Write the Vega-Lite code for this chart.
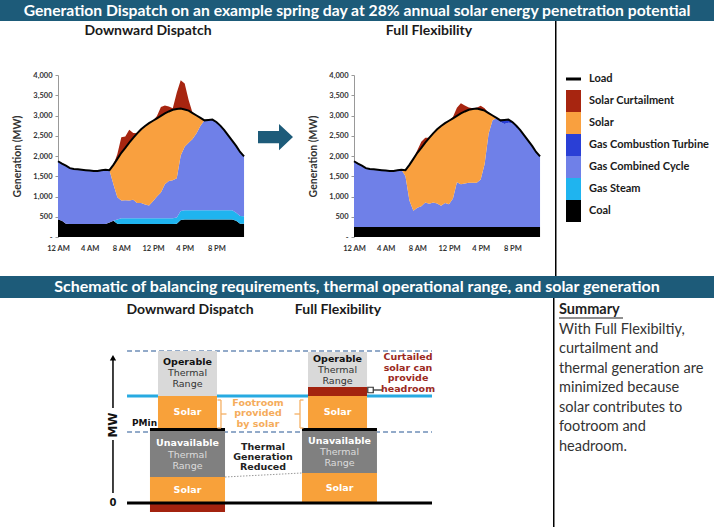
{
  "$schema": "https://vega.github.io/schema/vega-lite/v6.json",
  "padding": 0,
  "background": "white",
  "spacing": 0,
  "config": {"view": {"stroke": null}, "concat": {"spacing": 0}, "font": "Lato"},
  "datasets": {
    "dispatch": [
      {"panel":"Downward Dispatch","hour":0,"Coal":430,"Gas Steam":0,"Gas Combined Cycle":1440,"Gas Combustion Turbine":0,"Solar":0,"Solar Curtailment":0,"Load":1870},
      {"panel":"Downward Dispatch","hour":0.5,"Coal":400,"Gas Steam":0,"Gas Combined Cycle":1410,"Gas Combustion Turbine":0,"Solar":0,"Solar Curtailment":0,"Load":1810},
      {"panel":"Downward Dispatch","hour":1,"Coal":330,"Gas Steam":0,"Gas Combined Cycle":1430,"Gas Combustion Turbine":0,"Solar":0,"Solar Curtailment":0,"Load":1760},
      {"panel":"Downward Dispatch","hour":1.5,"Coal":320,"Gas Steam":0,"Gas Combined Cycle":1380,"Gas Combustion Turbine":0,"Solar":0,"Solar Curtailment":0,"Load":1700},
      {"panel":"Downward Dispatch","hour":2,"Coal":320,"Gas Steam":0,"Gas Combined Cycle":1360,"Gas Combustion Turbine":0,"Solar":0,"Solar Curtailment":0,"Load":1680},
      {"panel":"Downward Dispatch","hour":2.5,"Coal":320,"Gas Steam":0,"Gas Combined Cycle":1350,"Gas Combustion Turbine":0,"Solar":0,"Solar Curtailment":0,"Load":1670},
      {"panel":"Downward Dispatch","hour":3,"Coal":320,"Gas Steam":0,"Gas Combined Cycle":1340,"Gas Combustion Turbine":0,"Solar":0,"Solar Curtailment":0,"Load":1660},
      {"panel":"Downward Dispatch","hour":3.5,"Coal":320,"Gas Steam":0,"Gas Combined Cycle":1330,"Gas Combustion Turbine":0,"Solar":0,"Solar Curtailment":0,"Load":1650},
      {"panel":"Downward Dispatch","hour":4,"Coal":320,"Gas Steam":0,"Gas Combined Cycle":1320,"Gas Combustion Turbine":0,"Solar":0,"Solar Curtailment":0,"Load":1640},
      {"panel":"Downward Dispatch","hour":4.5,"Coal":320,"Gas Steam":0,"Gas Combined Cycle":1310,"Gas Combustion Turbine":0,"Solar":0,"Solar Curtailment":0,"Load":1630},
      {"panel":"Downward Dispatch","hour":5,"Coal":320,"Gas Steam":0,"Gas Combined Cycle":1310,"Gas Combustion Turbine":0,"Solar":0,"Solar Curtailment":0,"Load":1630},
      {"panel":"Downward Dispatch","hour":5.5,"Coal":320,"Gas Steam":0,"Gas Combined Cycle":1330,"Gas Combustion Turbine":0,"Solar":0,"Solar Curtailment":0,"Load":1650},
      {"panel":"Downward Dispatch","hour":6,"Coal":320,"Gas Steam":0,"Gas Combined Cycle":1340,"Gas Combustion Turbine":0,"Solar":0,"Solar Curtailment":0,"Load":1660},
      {"panel":"Downward Dispatch","hour":6.5,"Coal":360,"Gas Steam":0,"Gas Combined Cycle":1290,"Gas Combustion Turbine":0,"Solar":0,"Solar Curtailment":0,"Load":1650},
      {"panel":"Downward Dispatch","hour":7,"Coal":400,"Gas Steam":0,"Gas Combined Cycle":900,"Gas Combustion Turbine":0,"Solar":480,"Solar Curtailment":0,"Load":1780},
      {"panel":"Downward Dispatch","hour":7.5,"Coal":330,"Gas Steam":100,"Gas Combined Cycle":550,"Gas Combustion Turbine":0,"Solar":950,"Solar Curtailment":120,"Load":1930},
      {"panel":"Downward Dispatch","hour":8,"Coal":320,"Gas Steam":140,"Gas Combined Cycle":440,"Gas Combustion Turbine":0,"Solar":1180,"Solar Curtailment":380,"Load":2080},
      {"panel":"Downward Dispatch","hour":8.5,"Coal":320,"Gas Steam":140,"Gas Combined Cycle":445,"Gas Combustion Turbine":0,"Solar":1295,"Solar Curtailment":280,"Load":2200},
      {"panel":"Downward Dispatch","hour":9,"Coal":320,"Gas Steam":140,"Gas Combined Cycle":440,"Gas Combustion Turbine":0,"Solar":1430,"Solar Curtailment":320,"Load":2330},
      {"panel":"Downward Dispatch","hour":9.5,"Coal":320,"Gas Steam":140,"Gas Combined Cycle":460,"Gas Combustion Turbine":0,"Solar":1530,"Solar Curtailment":120,"Load":2450},
      {"panel":"Downward Dispatch","hour":10,"Coal":320,"Gas Steam":140,"Gas Combined Cycle":380,"Gas Combustion Turbine":0,"Solar":1720,"Solar Curtailment":0,"Load":2560},
      {"panel":"Downward Dispatch","hour":10.5,"Coal":320,"Gas Steam":140,"Gas Combined Cycle":380,"Gas Combustion Turbine":0,"Solar":1820,"Solar Curtailment":0,"Load":2660},
      {"panel":"Downward Dispatch","hour":11,"Coal":320,"Gas Steam":140,"Gas Combined Cycle":340,"Gas Combustion Turbine":0,"Solar":1940,"Solar Curtailment":0,"Load":2740},
      {"panel":"Downward Dispatch","hour":11.5,"Coal":320,"Gas Steam":140,"Gas Combined Cycle":320,"Gas Combustion Turbine":0,"Solar":2030,"Solar Curtailment":0,"Load":2810},
      {"panel":"Downward Dispatch","hour":12,"Coal":320,"Gas Steam":140,"Gas Combined Cycle":420,"Gas Combustion Turbine":0,"Solar":1990,"Solar Curtailment":0,"Load":2870},
      {"panel":"Downward Dispatch","hour":12.5,"Coal":320,"Gas Steam":140,"Gas Combined Cycle":540,"Gas Combustion Turbine":0,"Solar":1930,"Solar Curtailment":60,"Load":2930},
      {"panel":"Downward Dispatch","hour":13,"Coal":320,"Gas Steam":140,"Gas Combined Cycle":640,"Gas Combustion Turbine":0,"Solar":1890,"Solar Curtailment":220,"Load":2990},
      {"panel":"Downward Dispatch","hour":13.5,"Coal":320,"Gas Steam":140,"Gas Combined Cycle":840,"Gas Combustion Turbine":0,"Solar":1750,"Solar Curtailment":200,"Load":3050},
      {"panel":"Downward Dispatch","hour":14,"Coal":320,"Gas Steam":140,"Gas Combined Cycle":920,"Gas Combustion Turbine":0,"Solar":1720,"Solar Curtailment":120,"Load":3100},
      {"panel":"Downward Dispatch","hour":14.5,"Coal":320,"Gas Steam":140,"Gas Combined Cycle":940,"Gas Combustion Turbine":0,"Solar":1740,"Solar Curtailment":40,"Load":3140},
      {"panel":"Downward Dispatch","hour":15,"Coal":330,"Gas Steam":150,"Gas Combined Cycle":970,"Gas Combustion Turbine":0,"Solar":1710,"Solar Curtailment":400,"Load":3160},
      {"panel":"Downward Dispatch","hour":15.5,"Coal":420,"Gas Steam":220,"Gas Combined Cycle":1370,"Gas Combustion Turbine":0,"Solar":1160,"Solar Curtailment":700,"Load":3170},
      {"panel":"Downward Dispatch","hour":16,"Coal":430,"Gas Steam":230,"Gas Combined Cycle":1570,"Gas Combustion Turbine":0,"Solar":920,"Solar Curtailment":640,"Load":3150},
      {"panel":"Downward Dispatch","hour":16.5,"Coal":430,"Gas Steam":230,"Gas Combined Cycle":1670,"Gas Combustion Turbine":0,"Solar":790,"Solar Curtailment":260,"Load":3120},
      {"panel":"Downward Dispatch","hour":17,"Coal":430,"Gas Steam":230,"Gas Combined Cycle":1760,"Gas Combustion Turbine":0,"Solar":640,"Solar Curtailment":0,"Load":3060},
      {"panel":"Downward Dispatch","hour":17.5,"Coal":430,"Gas Steam":230,"Gas Combined Cycle":1900,"Gas Combustion Turbine":0,"Solar":440,"Solar Curtailment":0,"Load":3000},
      {"panel":"Downward Dispatch","hour":18,"Coal":430,"Gas Steam":230,"Gas Combined Cycle":2090,"Gas Combustion Turbine":0,"Solar":190,"Solar Curtailment":0,"Load":2940},
      {"panel":"Downward Dispatch","hour":18.5,"Coal":430,"Gas Steam":230,"Gas Combined Cycle":2220,"Gas Combustion Turbine":0,"Solar":0,"Solar Curtailment":0,"Load":2880},
      {"panel":"Downward Dispatch","hour":19,"Coal":430,"Gas Steam":230,"Gas Combined Cycle":2230,"Gas Combustion Turbine":0,"Solar":0,"Solar Curtailment":0,"Load":2890},
      {"panel":"Downward Dispatch","hour":19.5,"Coal":430,"Gas Steam":230,"Gas Combined Cycle":2240,"Gas Combustion Turbine":0,"Solar":0,"Solar Curtailment":0,"Load":2900},
      {"panel":"Downward Dispatch","hour":20,"Coal":430,"Gas Steam":230,"Gas Combined Cycle":2180,"Gas Combustion Turbine":0,"Solar":0,"Solar Curtailment":0,"Load":2840},
      {"panel":"Downward Dispatch","hour":20.5,"Coal":430,"Gas Steam":230,"Gas Combined Cycle":2090,"Gas Combustion Turbine":0,"Solar":0,"Solar Curtailment":0,"Load":2750},
      {"panel":"Downward Dispatch","hour":21,"Coal":430,"Gas Steam":230,"Gas Combined Cycle":1980,"Gas Combustion Turbine":0,"Solar":0,"Solar Curtailment":0,"Load":2640},
      {"panel":"Downward Dispatch","hour":21.5,"Coal":430,"Gas Steam":230,"Gas Combined Cycle":1850,"Gas Combustion Turbine":0,"Solar":0,"Solar Curtailment":0,"Load":2510},
      {"panel":"Downward Dispatch","hour":22,"Coal":430,"Gas Steam":230,"Gas Combined Cycle":1720,"Gas Combustion Turbine":0,"Solar":0,"Solar Curtailment":0,"Load":2380},
      {"panel":"Downward Dispatch","hour":22.5,"Coal":400,"Gas Steam":200,"Gas Combined Cycle":1650,"Gas Combustion Turbine":0,"Solar":0,"Solar Curtailment":0,"Load":2250},
      {"panel":"Downward Dispatch","hour":23,"Coal":330,"Gas Steam":190,"Gas Combined Cycle":1580,"Gas Combustion Turbine":0,"Solar":0,"Solar Curtailment":0,"Load":2100},
      {"panel":"Downward Dispatch","hour":23.5,"Coal":330,"Gas Steam":180,"Gas Combined Cycle":1480,"Gas Combustion Turbine":0,"Solar":0,"Solar Curtailment":0,"Load":1990},
      {"panel":"Full Flexibility","hour":0,"Coal":250,"Gas Steam":0,"Gas Combined Cycle":1620,"Gas Combustion Turbine":0,"Solar":0,"Solar Curtailment":0,"Load":1870},
      {"panel":"Full Flexibility","hour":0.5,"Coal":250,"Gas Steam":0,"Gas Combined Cycle":1560,"Gas Combustion Turbine":0,"Solar":0,"Solar Curtailment":0,"Load":1810},
      {"panel":"Full Flexibility","hour":1,"Coal":250,"Gas Steam":0,"Gas Combined Cycle":1510,"Gas Combustion Turbine":0,"Solar":0,"Solar Curtailment":0,"Load":1760},
      {"panel":"Full Flexibility","hour":1.5,"Coal":250,"Gas Steam":0,"Gas Combined Cycle":1450,"Gas Combustion Turbine":0,"Solar":0,"Solar Curtailment":0,"Load":1700},
      {"panel":"Full Flexibility","hour":2,"Coal":250,"Gas Steam":0,"Gas Combined Cycle":1430,"Gas Combustion Turbine":0,"Solar":0,"Solar Curtailment":0,"Load":1680},
      {"panel":"Full Flexibility","hour":2.5,"Coal":250,"Gas Steam":0,"Gas Combined Cycle":1420,"Gas Combustion Turbine":0,"Solar":0,"Solar Curtailment":0,"Load":1670},
      {"panel":"Full Flexibility","hour":3,"Coal":250,"Gas Steam":0,"Gas Combined Cycle":1410,"Gas Combustion Turbine":0,"Solar":0,"Solar Curtailment":0,"Load":1660},
      {"panel":"Full Flexibility","hour":3.5,"Coal":250,"Gas Steam":0,"Gas Combined Cycle":1400,"Gas Combustion Turbine":0,"Solar":0,"Solar Curtailment":0,"Load":1650},
      {"panel":"Full Flexibility","hour":4,"Coal":250,"Gas Steam":0,"Gas Combined Cycle":1390,"Gas Combustion Turbine":0,"Solar":0,"Solar Curtailment":0,"Load":1640},
      {"panel":"Full Flexibility","hour":4.5,"Coal":250,"Gas Steam":0,"Gas Combined Cycle":1380,"Gas Combustion Turbine":0,"Solar":0,"Solar Curtailment":0,"Load":1630},
      {"panel":"Full Flexibility","hour":5,"Coal":250,"Gas Steam":0,"Gas Combined Cycle":1380,"Gas Combustion Turbine":0,"Solar":0,"Solar Curtailment":0,"Load":1630},
      {"panel":"Full Flexibility","hour":5.5,"Coal":250,"Gas Steam":0,"Gas Combined Cycle":1400,"Gas Combustion Turbine":0,"Solar":0,"Solar Curtailment":0,"Load":1650},
      {"panel":"Full Flexibility","hour":6,"Coal":250,"Gas Steam":0,"Gas Combined Cycle":1410,"Gas Combustion Turbine":0,"Solar":0,"Solar Curtailment":0,"Load":1660},
      {"panel":"Full Flexibility","hour":6.5,"Coal":250,"Gas Steam":0,"Gas Combined Cycle":1250,"Gas Combustion Turbine":0,"Solar":150,"Solar Curtailment":0,"Load":1650},
      {"panel":"Full Flexibility","hour":7,"Coal":250,"Gas Steam":0,"Gas Combined Cycle":650,"Gas Combustion Turbine":0,"Solar":880,"Solar Curtailment":0,"Load":1780},
      {"panel":"Full Flexibility","hour":7.5,"Coal":250,"Gas Steam":0,"Gas Combined Cycle":400,"Gas Combustion Turbine":0,"Solar":1280,"Solar Curtailment":0,"Load":1930},
      {"panel":"Full Flexibility","hour":8,"Coal":250,"Gas Steam":0,"Gas Combined Cycle":470,"Gas Combustion Turbine":0,"Solar":1360,"Solar Curtailment":60,"Load":2080},
      {"panel":"Full Flexibility","hour":8.5,"Coal":250,"Gas Steam":0,"Gas Combined Cycle":510,"Gas Combustion Turbine":0,"Solar":1440,"Solar Curtailment":150,"Load":2200},
      {"panel":"Full Flexibility","hour":9,"Coal":250,"Gas Steam":0,"Gas Combined Cycle":600,"Gas Combustion Turbine":0,"Solar":1480,"Solar Curtailment":120,"Load":2330},
      {"panel":"Full Flexibility","hour":9.5,"Coal":250,"Gas Steam":0,"Gas Combined Cycle":570,"Gas Combustion Turbine":0,"Solar":1630,"Solar Curtailment":0,"Load":2450},
      {"panel":"Full Flexibility","hour":10,"Coal":250,"Gas Steam":0,"Gas Combined Cycle":600,"Gas Combustion Turbine":0,"Solar":1710,"Solar Curtailment":0,"Load":2560},
      {"panel":"Full Flexibility","hour":10.5,"Coal":250,"Gas Steam":0,"Gas Combined Cycle":580,"Gas Combustion Turbine":0,"Solar":1830,"Solar Curtailment":0,"Load":2660},
      {"panel":"Full Flexibility","hour":11,"Coal":250,"Gas Steam":0,"Gas Combined Cycle":520,"Gas Combustion Turbine":0,"Solar":1970,"Solar Curtailment":0,"Load":2740},
      {"panel":"Full Flexibility","hour":11.5,"Coal":250,"Gas Steam":0,"Gas Combined Cycle":590,"Gas Combustion Turbine":0,"Solar":1970,"Solar Curtailment":0,"Load":2810},
      {"panel":"Full Flexibility","hour":12,"Coal":250,"Gas Steam":0,"Gas Combined Cycle":560,"Gas Combustion Turbine":0,"Solar":2060,"Solar Curtailment":0,"Load":2870},
      {"panel":"Full Flexibility","hour":12.5,"Coal":250,"Gas Steam":0,"Gas Combined Cycle":700,"Gas Combustion Turbine":0,"Solar":1980,"Solar Curtailment":30,"Load":2930},
      {"panel":"Full Flexibility","hour":13,"Coal":250,"Gas Steam":0,"Gas Combined Cycle":1100,"Gas Combustion Turbine":0,"Solar":1640,"Solar Curtailment":200,"Load":2990},
      {"panel":"Full Flexibility","hour":13.5,"Coal":250,"Gas Steam":0,"Gas Combined Cycle":1050,"Gas Combustion Turbine":0,"Solar":1750,"Solar Curtailment":250,"Load":3050},
      {"panel":"Full Flexibility","hour":14,"Coal":250,"Gas Steam":0,"Gas Combined Cycle":1070,"Gas Combustion Turbine":0,"Solar":1780,"Solar Curtailment":150,"Load":3100},
      {"panel":"Full Flexibility","hour":14.5,"Coal":250,"Gas Steam":0,"Gas Combined Cycle":1090,"Gas Combustion Turbine":0,"Solar":1800,"Solar Curtailment":60,"Load":3140},
      {"panel":"Full Flexibility","hour":15,"Coal":250,"Gas Steam":0,"Gas Combined Cycle":1090,"Gas Combustion Turbine":0,"Solar":1820,"Solar Curtailment":20,"Load":3160},
      {"panel":"Full Flexibility","hour":15.5,"Coal":250,"Gas Steam":0,"Gas Combined Cycle":1090,"Gas Combustion Turbine":0,"Solar":1830,"Solar Curtailment":20,"Load":3170},
      {"panel":"Full Flexibility","hour":16,"Coal":250,"Gas Steam":0,"Gas Combined Cycle":1170,"Gas Combustion Turbine":0,"Solar":1730,"Solar Curtailment":90,"Load":3150},
      {"panel":"Full Flexibility","hour":16.5,"Coal":250,"Gas Steam":0,"Gas Combined Cycle":1550,"Gas Combustion Turbine":0,"Solar":1320,"Solar Curtailment":60,"Load":3120},
      {"panel":"Full Flexibility","hour":17,"Coal":250,"Gas Steam":0,"Gas Combined Cycle":2300,"Gas Combustion Turbine":0,"Solar":510,"Solar Curtailment":0,"Load":3060},
      {"panel":"Full Flexibility","hour":17.5,"Coal":250,"Gas Steam":0,"Gas Combined Cycle":2630,"Gas Combustion Turbine":0,"Solar":120,"Solar Curtailment":0,"Load":3000},
      {"panel":"Full Flexibility","hour":18,"Coal":250,"Gas Steam":0,"Gas Combined Cycle":2690,"Gas Combustion Turbine":0,"Solar":0,"Solar Curtailment":0,"Load":2940},
      {"panel":"Full Flexibility","hour":18.5,"Coal":250,"Gas Steam":0,"Gas Combined Cycle":2590,"Gas Combustion Turbine":40,"Solar":0,"Solar Curtailment":0,"Load":2880},
      {"panel":"Full Flexibility","hour":19,"Coal":250,"Gas Steam":0,"Gas Combined Cycle":2540,"Gas Combustion Turbine":100,"Solar":0,"Solar Curtailment":0,"Load":2890},
      {"panel":"Full Flexibility","hour":19.5,"Coal":250,"Gas Steam":0,"Gas Combined Cycle":2570,"Gas Combustion Turbine":80,"Solar":0,"Solar Curtailment":0,"Load":2900},
      {"panel":"Full Flexibility","hour":20,"Coal":250,"Gas Steam":0,"Gas Combined Cycle":2560,"Gas Combustion Turbine":30,"Solar":0,"Solar Curtailment":0,"Load":2840},
      {"panel":"Full Flexibility","hour":20.5,"Coal":250,"Gas Steam":0,"Gas Combined Cycle":2440,"Gas Combustion Turbine":60,"Solar":0,"Solar Curtailment":0,"Load":2750},
      {"panel":"Full Flexibility","hour":21,"Coal":250,"Gas Steam":0,"Gas Combined Cycle":2390,"Gas Combustion Turbine":0,"Solar":0,"Solar Curtailment":0,"Load":2640},
      {"panel":"Full Flexibility","hour":21.5,"Coal":250,"Gas Steam":0,"Gas Combined Cycle":2260,"Gas Combustion Turbine":0,"Solar":0,"Solar Curtailment":0,"Load":2510},
      {"panel":"Full Flexibility","hour":22,"Coal":250,"Gas Steam":0,"Gas Combined Cycle":2130,"Gas Combustion Turbine":0,"Solar":0,"Solar Curtailment":0,"Load":2380},
      {"panel":"Full Flexibility","hour":22.5,"Coal":250,"Gas Steam":0,"Gas Combined Cycle":2000,"Gas Combustion Turbine":0,"Solar":0,"Solar Curtailment":0,"Load":2250},
      {"panel":"Full Flexibility","hour":23,"Coal":250,"Gas Steam":0,"Gas Combined Cycle":1850,"Gas Combustion Turbine":0,"Solar":0,"Solar Curtailment":0,"Load":2100},
      {"panel":"Full Flexibility","hour":23.5,"Coal":250,"Gas Steam":0,"Gas Combined Cycle":1740,"Gas Combustion Turbine":0,"Solar":0,"Solar Curtailment":0,"Load":1990}
    ],
    "sources": [
      {"source":"Coal","rank":1},
      {"source":"Gas Steam","rank":2},
      {"source":"Gas Combined Cycle","rank":3},
      {"source":"Gas Combustion Turbine","rank":4},
      {"source":"Solar","rank":5},
      {"source":"Solar Curtailment","rank":6}
    ],
    "legend": [
      {"item":"Load"},{"item":"Solar Curtailment"},{"item":"Solar"},{"item":"Gas Combustion Turbine"},{"item":"Gas Combined Cycle"},{"item":"Gas Steam"},{"item":"Coal"}
    ],
    "boxes": [
      {"panel":"Downward Dispatch","part":"Operable Thermal Range","x1":28.57,"x2":39.24,"y1":70.39,"y2":100},
      {"panel":"Downward Dispatch","part":"Solar","x1":28.57,"x2":39.24,"y1":48.68,"y2":70.39},
      {"panel":"Downward Dispatch","part":"Unavailable Thermal Range","x1":27.12,"x2":40.69,"y1":17.11,"y2":47.37},
      {"panel":"Downward Dispatch","part":"Solar","x1":27.12,"x2":40.69,"y1":0,"y2":17.11},
      {"panel":"Downward Dispatch","part":"Solar Curtailment","x1":27.12,"x2":40.69,"y1":-5.92,"y2":0},
      {"panel":"Downward Dispatch","part":"PMin","x1":27.12,"x2":40.69,"y1":47.37,"y2":49.34},
      {"panel":"Full Flexibility","part":"Operable Thermal Range","x1":55.7,"x2":66.37,"y1":76.32,"y2":99.3},
      {"panel":"Full Flexibility","part":"Solar Curtailment","x1":55.7,"x2":66.37,"y1":70.39,"y2":76.32},
      {"panel":"Full Flexibility","part":"Solar","x1":55.7,"x2":66.37,"y1":48.68,"y2":70.39},
      {"panel":"Full Flexibility","part":"Unavailable Thermal Range","x1":54.61,"x2":68.17,"y1":19.74,"y2":47.37},
      {"panel":"Full Flexibility","part":"Solar","x1":54.61,"x2":68.17,"y1":0,"y2":19.74},
      {"panel":"Full Flexibility","part":"PMin","x1":54.61,"x2":68.17,"y1":47.37,"y2":49.34}
    ],
    "lines": [
      {"kind":"Thermal limit","x1":22.97,"x2":78.12,"y1":100,"y2":100},
      {"kind":"Thermal limit","x1":22.97,"x2":78.12,"y1":46.71,"y2":46.71},
      {"kind":"Solar level","x1":22.97,"x2":78.12,"y1":70.39,"y2":70.39},
      {"kind":"Reduction","x1":40.69,"x2":54.61,"y1":17.11,"y2":19.74},
      {"kind":"Axis","x1":20.43,"x2":20.43,"y1":6.58,"y2":41.45},
      {"kind":"Axis","x1":20.43,"x2":20.43,"y1":62.5,"y2":94.5},
      {"kind":"Footroom","x1":39.96,"x2":39.96,"y1":49.34,"y2":67.76},
      {"kind":"Footroom","x1":39.33,"x2":39.96,"y1":67.76,"y2":67.76},
      {"kind":"Footroom","x1":39.33,"x2":39.96,"y1":49.34,"y2":49.34},
      {"kind":"Footroom","x1":39.96,"x2":40.96,"y1":58.55,"y2":58.55},
      {"kind":"Footroom","x1":54.25,"x2":54.25,"y1":49.34,"y2":67.76},
      {"kind":"Footroom","x1":54.25,"x2":54.88,"y1":67.76,"y2":67.76},
      {"kind":"Footroom","x1":54.25,"x2":54.88,"y1":49.34,"y2":49.34},
      {"kind":"Footroom","x1":53.25,"x2":54.25,"y1":58.55,"y2":58.55},
      {"kind":"Headroom","x1":67.4,"x2":69.1,"y1":74.34,"y2":74.34},
      {"kind":"Zero","x1":22.97,"x2":78.12,"y1":0,"y2":0}
    ],
    "markers": [
      {"kind":"Axis arrow","x":20.43,"y":95.6},
      {"kind":"Headroom marker","x":67.0,"y":74.34}
    ],
    "labels": [
      {"role":"panel","x":34.36,"y":126.97,"text":"Downward Dispatch"},
      {"role":"panel","x":61.12,"y":126.97,"text":"Full Flexibility"},
      {"role":"operable heading","x":33.9,"y":92.76,"text":"Operable"},
      {"role":"operable note","x":33.9,"y":85.53,"text":"Thermal"},
      {"role":"operable note","x":33.9,"y":78.29,"text":"Range"},
      {"role":"solar","x":33.9,"y":59.87,"text":"Solar"},
      {"role":"unavailable heading","x":33.9,"y":39.47,"text":"Unavailable"},
      {"role":"unavailable note","x":33.9,"y":31.58,"text":"Thermal"},
      {"role":"unavailable note","x":33.9,"y":24.34,"text":"Range"},
      {"role":"solar","x":33.9,"y":8.55,"text":"Solar"},
      {"role":"operable heading","x":61.03,"y":94.74,"text":"Operable"},
      {"role":"operable note","x":61.03,"y":87.5,"text":"Thermal"},
      {"role":"operable note","x":61.03,"y":80.26,"text":"Range"},
      {"role":"solar","x":61.03,"y":59.87,"text":"Solar"},
      {"role":"unavailable heading","x":61.39,"y":40.79,"text":"Unavailable"},
      {"role":"unavailable note","x":61.39,"y":33.55,"text":"Thermal"},
      {"role":"unavailable note","x":61.39,"y":26.32,"text":"Range"},
      {"role":"solar","x":61.39,"y":9.87,"text":"Solar"},
      {"role":"footroom","x":46.65,"y":65.79,"text":"Footroom"},
      {"role":"footroom","x":46.65,"y":59.21,"text":"provided"},
      {"role":"footroom","x":46.65,"y":51.97,"text":"by solar"},
      {"role":"reduction","x":47.56,"y":36.84,"text":"Thermal"},
      {"role":"reduction","x":47.56,"y":30.26,"text":"Generation"},
      {"role":"reduction","x":47.56,"y":23.68,"text":"Reduced"},
      {"role":"headroom","x":73.78,"y":96.05,"text":"Curtailed"},
      {"role":"headroom","x":73.78,"y":88.82,"text":"solar can"},
      {"role":"headroom","x":73.78,"y":82.24,"text":"provide"},
      {"role":"headroom","x":73.78,"y":75.0,"text":"headroom"},
      {"role":"pmin","x":23.87,"y":52.63,"text":"PMin"},
      {"role":"zero","x":20.43,"y":0,"text":"0"},
      {"role":"mw","x":20.43,"y":51.3,"text":"MW"}
    ],
    "summary": [
      {"line":0,"text":"Summary"},
      {"line":1,"text":"With Full Flexibiltiy,"},
      {"line":2,"text":"curtailment and"},
      {"line":3,"text":"thermal generation are"},
      {"line":4,"text":"minimized because"},
      {"line":5,"text":"solar contributes to"},
      {"line":6,"text":"footroom and"},
      {"line":7,"text":"headroom."}
    ]
  },
  "vconcat": [
    {
      "width": 714, "height": 21,
      "view": {"fill": "#1d5b79"},
      "data": {"values": [{"title": "Generation Dispatch on an example spring day at 28% annual solar energy penetration potential"}]},
      "mark": {"type": "text", "font": "Lato", "fontSize": 15.7, "fontWeight": "bold", "color": "white"},
      "encoding": {"text": {"field": "title"}}
    },
    {
      "spacing": 0,
      "hconcat": [
        {"width": 11.75, "height": 255, "data": {"values": []}, "mark": "point", "encoding": {}},
        {
          "spacing": 0,
          "vconcat": [
            {"width": 190, "height": 20, "data": {"values": [{"panel": "Downward Dispatch"}]}, "mark": {"type": "text", "font": "Lato", "fontSize": 14, "fontWeight": "bold", "color": "#1a1a1a", "dx": -5}, "encoding": {"text": {"field": "panel"}}},
            {"width": 190, "height": 29.25, "data": {"values": []}, "mark": "point", "encoding": {}},
            {
              "width": 190, "height": 162,
              "data": {"name": "dispatch"},
              "transform": [{"filter": "datum.panel === 'Downward Dispatch'"}],
              "layer": [
                {
                  "transform": [
                    {"fold": ["Coal", "Gas Steam", "Gas Combined Cycle", "Gas Combustion Turbine", "Solar", "Solar Curtailment"], "as": ["source", "mw"]},
                    {"lookup": "source", "from": {"data": {"name": "sources"}, "key": "source", "fields": ["rank"]}}
                  ],
                  "mark": {"type": "area", "interpolate": "linear"},
                  "encoding": {
                    "x": {"field": "hour", "type": "quantitative", "scale": {"domain": [0, 24], "nice": false},
                      "axis": {"values": [0, 4, 8, 12, 16, 20], "labelExpr": "['12 AM','4 AM','8 AM','12 PM','4 PM','8 PM'][datum.value/4]", "labelOverlap": false, "labelFlush": false, "title": null, "grid": false, "domain": false, "ticks": false, "labelPadding": 7, "labelFont": "Lato", "labelFontSize": 7.5, "labelFontWeight": "bold", "labelColor": "#333"}},
                    "y": {"field": "mw", "type": "quantitative", "stack": "zero", "scale": {"domain": [0, 4000], "nice": false},
                      "axis": {"title": "Generation (MW)", "values": [0, 500, 1000, 1500, 2000, 2500, 3000, 3500, 4000], "labelExpr": "datum.value === 0 ? '-' : format(datum.value, ',')", "labelOverlap": false, "labelFlush": false, "grid": false, "domainColor": "#999", "tickColor": "#999", "tickSize": 3, "labelPadding": 3, "labelFont": "Lato", "labelFontSize": 7.5, "labelFontWeight": "bold", "labelColor": "#333", "titleFont": "Lato", "titleFontSize": 10.5, "titleFontWeight": "bold", "titleColor": "#333", "titlePadding": 7.75, "minExtent": 28, "maxExtent": 28}},
                    "color": {"field": "source", "type": "nominal", "legend": null,
                      "scale": {"domain": ["Coal", "Gas Steam", "Gas Combined Cycle", "Gas Combustion Turbine", "Solar", "Solar Curtailment"], "range": ["#000000", "#1fb4ef", "#6f80e8", "#2a3fd6", "#f9a03f", "#a72510"]}},
                    "order": {"field": "rank", "type": "quantitative"}
                  }
                },
                {
                  "mark": {"type": "line", "color": "#000", "strokeWidth": 2},
                  "encoding": {
                    "x": {"field": "hour", "type": "quantitative", "scale": {"domain": [0, 24], "nice": false},
                      "axis": {"values": [0, 4, 8, 12, 16, 20], "labelExpr": "['12 AM','4 AM','8 AM','12 PM','4 PM','8 PM'][datum.value/4]", "labelOverlap": false, "labelFlush": false, "title": null, "grid": false, "domain": false, "ticks": false, "labelPadding": 7, "labelFont": "Lato", "labelFontSize": 7.5, "labelFontWeight": "bold", "labelColor": "#333"}},
                    "y": {"field": "Load", "type": "quantitative", "scale": {"domain": [0, 4000], "nice": false},
                      "axis": {"title": "Generation (MW)", "values": [0, 500, 1000, 1500, 2000, 2500, 3000, 3500, 4000], "labelExpr": "datum.value === 0 ? '-' : format(datum.value, ',')", "labelOverlap": false, "labelFlush": false, "grid": false, "domainColor": "#999", "tickColor": "#999", "tickSize": 3, "labelPadding": 3, "labelFont": "Lato", "labelFontSize": 7.5, "labelFontWeight": "bold", "labelColor": "#333", "titleFont": "Lato", "titleFontSize": 10.5, "titleFontWeight": "bold", "titleColor": "#333", "titlePadding": 7.75, "minExtent": 28, "maxExtent": 28}}
                  }
                }
              ]
            }
          ]
        },
        {
          "width": 53, "height": 232,
          "data": {"values": [{"direction": "to Full Flexibility"}]},
          "mark": {"type": "point", "shape": "M-1,-0.35L0.2,-0.35L0.2,-0.75L1,0L0.2,0.75L0.2,0.35L-1,0.35Z", "size": 1225, "filled": true, "color": "#1d5b79", "opacity": 1},
          "encoding": {}
        },
        {"width": 5.75, "height": 10, "data": {"values": []}, "mark": "point", "encoding": {}},
        {
          "spacing": 0,
          "vconcat": [
            {"width": 190, "height": 20, "data": {"values": [{"panel": "Full Flexibility"}]}, "mark": {"type": "text", "font": "Lato", "fontSize": 14, "fontWeight": "bold", "color": "#1a1a1a", "dx": -20}, "encoding": {"text": {"field": "panel"}}},
            {"width": 190, "height": 29.25, "data": {"values": []}, "mark": "point", "encoding": {}},
            {
              "width": 190, "height": 162,
              "data": {"name": "dispatch"},
              "transform": [{"filter": "datum.panel === 'Full Flexibility'"}],
              "layer": [
                {
                  "transform": [
                    {"fold": ["Coal", "Gas Steam", "Gas Combined Cycle", "Gas Combustion Turbine", "Solar", "Solar Curtailment"], "as": ["source", "mw"]},
                    {"lookup": "source", "from": {"data": {"name": "sources"}, "key": "source", "fields": ["rank"]}}
                  ],
                  "mark": {"type": "area", "interpolate": "linear"},
                  "encoding": {
                    "x": {"field": "hour", "type": "quantitative", "scale": {"domain": [0, 24], "nice": false},
                      "axis": {"values": [0, 4, 8, 12, 16, 20], "labelExpr": "['12 AM','4 AM','8 AM','12 PM','4 PM','8 PM'][datum.value/4]", "labelOverlap": false, "labelFlush": false, "title": null, "grid": false, "domain": false, "ticks": false, "labelPadding": 7, "labelFont": "Lato", "labelFontSize": 7.5, "labelFontWeight": "bold", "labelColor": "#333"}},
                    "y": {"field": "mw", "type": "quantitative", "stack": "zero", "scale": {"domain": [0, 4000], "nice": false},
                      "axis": {"title": "Generation (MW)", "values": [0, 500, 1000, 1500, 2000, 2500, 3000, 3500, 4000], "labelExpr": "datum.value === 0 ? '-' : format(datum.value, ',')", "labelOverlap": false, "labelFlush": false, "grid": false, "domainColor": "#999", "tickColor": "#999", "tickSize": 3, "labelPadding": 3, "labelFont": "Lato", "labelFontSize": 7.5, "labelFontWeight": "bold", "labelColor": "#333", "titleFont": "Lato", "titleFontSize": 10.5, "titleFontWeight": "bold", "titleColor": "#333", "titlePadding": 7.75, "minExtent": 28, "maxExtent": 28}},
                    "color": {"field": "source", "type": "nominal", "legend": null,
                      "scale": {"domain": ["Coal", "Gas Steam", "Gas Combined Cycle", "Gas Combustion Turbine", "Solar", "Solar Curtailment"], "range": ["#000000", "#1fb4ef", "#6f80e8", "#2a3fd6", "#f9a03f", "#a72510"]}},
                    "order": {"field": "rank", "type": "quantitative"}
                  }
                },
                {
                  "mark": {"type": "line", "color": "#000", "strokeWidth": 2},
                  "encoding": {
                    "x": {"field": "hour", "type": "quantitative", "scale": {"domain": [0, 24], "nice": false},
                      "axis": {"values": [0, 4, 8, 12, 16, 20], "labelExpr": "['12 AM','4 AM','8 AM','12 PM','4 PM','8 PM'][datum.value/4]", "labelOverlap": false, "labelFlush": false, "title": null, "grid": false, "domain": false, "ticks": false, "labelPadding": 7, "labelFont": "Lato", "labelFontSize": 7.5, "labelFontWeight": "bold", "labelColor": "#333"}},
                    "y": {"field": "Load", "type": "quantitative", "scale": {"domain": [0, 4000], "nice": false},
                      "axis": {"title": "Generation (MW)", "values": [0, 500, 1000, 1500, 2000, 2500, 3000, 3500, 4000], "labelExpr": "datum.value === 0 ? '-' : format(datum.value, ',')", "labelOverlap": false, "labelFlush": false, "grid": false, "domainColor": "#999", "tickColor": "#999", "tickSize": 3, "labelPadding": 3, "labelFont": "Lato", "labelFontSize": 7.5, "labelFontWeight": "bold", "labelColor": "#333", "titleFont": "Lato", "titleFontSize": 10.5, "titleFontWeight": "bold", "titleColor": "#333", "titlePadding": 7.75, "minExtent": 28, "maxExtent": 28}}
                  }
                }
              ]
            }
          ]
        },
        {"width": 10, "height": 10, "data": {"values": []}, "mark": "point", "encoding": {}},
        {"width": 1.5, "height": 255, "view": {"fill": "#000"}, "data": {"values": []}, "mark": "point", "encoding": {}},
        {"width": 8.5, "height": 10, "data": {"values": []}, "mark": "point", "encoding": {}},
        {
          "spacing": 0,
          "vconcat": [
            {"width": 15, "height": 47, "data": {"values": []}, "mark": "point", "encoding": {}},
            {
              "spacing": 0,
              "hconcat": [
                {
                  "width": 15, "height": 154,
                  "data": {"name": "legend"},
                  "layer": [
                    {
                      "transform": [{"filter": "datum.item !== 'Load'"}],
                      "mark": {"type": "rect"},
                      "encoding": {
                        "y": {"field": "item", "type": "nominal", "sort": null, "axis": null, "scale": {"domain": ["Load", "Solar Curtailment", "Solar", "Gas Combustion Turbine", "Gas Combined Cycle", "Gas Steam", "Coal"], "paddingInner": 0, "paddingOuter": 0}},
                        "color": {"field": "item", "type": "nominal", "legend": null, "scale": {"domain": ["Coal", "Gas Steam", "Gas Combined Cycle", "Gas Combustion Turbine", "Solar", "Solar Curtailment"], "range": ["#000000", "#1fb4ef", "#6f80e8", "#2a3fd6", "#f9a03f", "#a72510"]}}
                      }
                    },
                    {
                      "transform": [{"filter": "datum.item === 'Load'"}],
                      "mark": {"type": "rect", "color": "#000", "height": 3},
                      "encoding": {
                        "y": {"field": "item", "type": "nominal", "sort": null, "axis": null, "scale": {"domain": ["Load", "Solar Curtailment", "Solar", "Gas Combustion Turbine", "Gas Combined Cycle", "Gas Steam", "Coal"], "paddingInner": 0, "paddingOuter": 0}}
                      }
                    }
                  ]
                },
                {"width": 8, "height": 10, "data": {"values": []}, "mark": "point", "encoding": {}},
                {
                  "width": 128, "height": 154,
                  "data": {"name": "legend"},
                  "mark": {"type": "text", "align": "left", "font": "Lato", "fontSize": 11, "fontWeight": "bold", "color": "#1a1a1a"},
                  "encoding": {
                    "y": {"field": "item", "type": "nominal", "sort": null, "axis": null, "scale": {"domain": ["Load", "Solar Curtailment", "Solar", "Gas Combustion Turbine", "Gas Combined Cycle", "Gas Steam", "Coal"], "paddingInner": 0, "paddingOuter": 0}},
                    "x": {"value": 0},
                    "text": {"field": "item"}
                  }
                }
              ]
            }
          ]
        }
      ]
    },
    {
      "width": 714, "height": 22,
      "view": {"fill": "#1d5b79"},
      "data": {"values": [{"title": "Schematic of balancing requirements, thermal operational range, and solar generation"}]},
      "mark": {"type": "text", "font": "Lato", "fontSize": 16, "fontWeight": "bold", "color": "white"},
      "encoding": {"text": {"field": "title"}}
    },
    {
      "spacing": 0,
      "hconcat": [
        {
          "width": 553, "height": 229,
          "resolve": {"scale": {"color": "independent"}},
          "layer": [
            {
              "data": {"name": "lines"},
              "transform": [{"filter": "datum.kind === 'Thermal limit'"}],
              "mark": {"type": "rule", "color": "#6f8fb8", "strokeWidth": 1.5, "strokeDash": [5, 3]},
              "encoding": {
                "x": {"field": "x1", "type": "quantitative", "axis": null, "scale": {"domain": [0, 100], "nice": false, "zero": false}},
                "x2": {"field": "x2"},
                "y": {"field": "y1", "type": "quantitative", "axis": null, "scale": {"domain": [-15.79, 134.87], "nice": false, "zero": false}},
                "y2": {"field": "y2"}
              }
            },
            {
              "data": {"name": "lines"},
              "transform": [{"filter": "datum.kind === 'Solar level'"}],
              "mark": {"type": "rule", "color": "#27aae1", "strokeWidth": 3},
              "encoding": {
                "x": {"field": "x1", "type": "quantitative"}, "x2": {"field": "x2"},
                "y": {"field": "y1", "type": "quantitative"}, "y2": {"field": "y2"}
              }
            },
            {
              "data": {"name": "boxes"},
              "mark": {"type": "rect"},
              "encoding": {
                "x": {"field": "x1", "type": "quantitative"}, "x2": {"field": "x2"},
                "y": {"field": "y1", "type": "quantitative"}, "y2": {"field": "y2"},
                "color": {"field": "part", "type": "nominal", "legend": null,
                  "scale": {"domain": ["Operable Thermal Range", "Solar", "Unavailable Thermal Range", "Solar Curtailment", "PMin"], "range": ["#d9d9d9", "#f8a13a", "#808080", "#a3230f", "#000000"]}}
              }
            },
            {
              "data": {"name": "lines"},
              "transform": [{"filter": "datum.kind === 'Zero'"}],
              "mark": {"type": "rule", "color": "#000", "strokeWidth": 3},
              "encoding": {
                "x": {"field": "x1", "type": "quantitative"}, "x2": {"field": "x2"},
                "y": {"field": "y1", "type": "quantitative"}, "y2": {"field": "y2"}
              }
            },
            {
              "data": {"name": "lines"},
              "transform": [{"filter": "datum.kind === 'Reduction'"}],
              "mark": {"type": "rule", "color": "#9a9a9a", "strokeWidth": 1, "strokeDash": [1.5, 1.5]},
              "encoding": {
                "x": {"field": "x1", "type": "quantitative"}, "x2": {"field": "x2"},
                "y": {"field": "y1", "type": "quantitative"}, "y2": {"field": "y2"}
              }
            },
            {
              "data": {"name": "lines"},
              "transform": [{"filter": "datum.kind === 'Axis'"}],
              "mark": {"type": "rule", "color": "#000", "strokeWidth": 1.5},
              "encoding": {
                "x": {"field": "x1", "type": "quantitative"}, "x2": {"field": "x2"},
                "y": {"field": "y1", "type": "quantitative"}, "y2": {"field": "y2"}
              }
            },
            {
              "data": {"name": "lines"},
              "transform": [{"filter": "datum.kind === 'Footroom'"}],
              "mark": {"type": "rule", "color": "#f5b064", "strokeWidth": 1.3},
              "encoding": {
                "x": {"field": "x1", "type": "quantitative"}, "x2": {"field": "x2"},
                "y": {"field": "y1", "type": "quantitative"}, "y2": {"field": "y2"}
              }
            },
            {
              "data": {"name": "lines"},
              "transform": [{"filter": "datum.kind === 'Headroom'"}],
              "mark": {"type": "rule", "color": "#333", "strokeWidth": 1.3},
              "encoding": {
                "x": {"field": "x1", "type": "quantitative"}, "x2": {"field": "x2"},
                "y": {"field": "y1", "type": "quantitative"}, "y2": {"field": "y2"}
              }
            },
            {
              "data": {"name": "markers"},
              "transform": [{"filter": "datum.kind === 'Axis arrow'"}],
              "mark": {"type": "point", "shape": "triangle-up", "filled": true, "color": "#000", "size": 40, "opacity": 1},
              "encoding": {"x": {"field": "x", "type": "quantitative"}, "y": {"field": "y", "type": "quantitative"}}
            },
            {
              "data": {"name": "markers"},
              "transform": [{"filter": "datum.kind === 'Headroom marker'"}],
              "mark": {"type": "point", "shape": "square", "filled": true, "fill": "white", "stroke": "#333", "strokeWidth": 1.2, "size": 30, "opacity": 1},
              "encoding": {"x": {"field": "x", "type": "quantitative"}, "y": {"field": "y", "type": "quantitative"}}
            },
            {
              "data": {"name": "labels"},
              "transform": [{"filter": "indexof(['operable heading','solar','unavailable heading','footroom','reduction','headroom'], datum.role) >= 0"}],
              "mark": {"type": "text", "font": "DejaVu Sans", "fontSize": 9.5, "fontWeight": "bold", "baseline": "middle"},
              "encoding": {
                "x": {"field": "x", "type": "quantitative"}, "y": {"field": "y", "type": "quantitative"},
                "text": {"field": "text"},
                "color": {"field": "role", "type": "nominal", "legend": null,
                  "scale": {"domain": ["operable heading", "solar", "unavailable heading", "footroom", "reduction", "headroom"], "range": ["#111111", "#ffffff", "#ffffff", "#f5ac5b", "#222222", "#9b2a1e"]}}
              }
            },
            {
              "data": {"name": "labels"},
              "transform": [{"filter": "indexof(['operable note','unavailable note'], datum.role) >= 0"}],
              "mark": {"type": "text", "font": "DejaVu Sans", "fontSize": 9.5, "baseline": "middle"},
              "encoding": {
                "x": {"field": "x", "type": "quantitative"}, "y": {"field": "y", "type": "quantitative"},
                "text": {"field": "text"},
                "color": {"field": "role", "type": "nominal", "legend": null,
                  "scale": {"domain": ["operable note", "unavailable note"], "range": ["#333333", "#dcdcdc"]}}
              }
            },
            {
              "data": {"name": "labels"},
              "transform": [{"filter": "datum.role === 'pmin'"}],
              "mark": {"type": "text", "font": "DejaVu Sans", "fontSize": 9, "fontWeight": "bold", "align": "left", "baseline": "middle", "color": "#111"},
              "encoding": {"x": {"field": "x", "type": "quantitative"}, "y": {"field": "y", "type": "quantitative"}, "text": {"field": "text"}}
            },
            {
              "data": {"name": "labels"},
              "transform": [{"filter": "datum.role === 'zero'"}],
              "mark": {"type": "text", "font": "DejaVu Sans", "fontSize": 10, "fontWeight": "bold", "baseline": "middle", "color": "#111"},
              "encoding": {"x": {"field": "x", "type": "quantitative"}, "y": {"field": "y", "type": "quantitative"}, "text": {"field": "text"}}
            },
            {
              "data": {"name": "labels"},
              "transform": [{"filter": "datum.role === 'mw'"}],
              "mark": {"type": "text", "font": "DejaVu Sans", "fontSize": 12, "fontWeight": "bold", "baseline": "middle", "angle": 270, "color": "#111"},
              "encoding": {"x": {"field": "x", "type": "quantitative"}, "y": {"field": "y", "type": "quantitative"}, "text": {"field": "text"}}
            },
            {
              "data": {"name": "labels"},
              "transform": [{"filter": "datum.role === 'panel'"}],
              "mark": {"type": "text", "font": "Lato", "fontSize": 14, "fontWeight": "bold", "baseline": "middle", "color": "#1a1a1a"},
              "encoding": {"x": {"field": "x", "type": "quantitative"}, "y": {"field": "y", "type": "quantitative"}, "text": {"field": "text"}}
            }
          ]
        },
        {"width": 1.5, "height": 229, "view": {"fill": "#000"}, "data": {"values": []}, "mark": "point", "encoding": {}},
        {"width": 2.5, "height": 10, "data": {"values": []}, "mark": "point", "encoding": {}},
        {
          "width": 157, "height": 229,
          "data": {"name": "summary"},
          "layer": [
            {
              "transform": [{"filter": "datum.line === 0"}],
              "mark": {"type": "text", "align": "left", "baseline": "middle", "font": "Lato", "fontSize": 14.5, "fontWeight": "bold", "color": "#222"},
              "encoding": {
                "x": {"value": 0},
                "y": {"field": "line", "type": "quantitative", "axis": null, "scale": {"domain": [-0.641, 11.103], "reverse": true, "nice": false, "zero": false}},
                "text": {"field": "text"}
              }
            },
            {
              "transform": [{"filter": "datum.line === 0"}],
              "mark": {"type": "rule", "color": "#222", "strokeWidth": 1.2, "yOffset": 7.5},
              "encoding": {
                "x": {"value": 0}, "x2": {"value": 64},
                "y": {"field": "line", "type": "quantitative"}
              }
            },
            {
              "transform": [{"filter": "datum.line > 0"}],
              "mark": {"type": "text", "align": "left", "baseline": "middle", "font": "Lato", "fontSize": 14.5, "color": "#333"},
              "encoding": {
                "x": {"value": 0},
                "y": {"field": "line", "type": "quantitative"},
                "text": {"field": "text"}
              }
            }
          ]
        }
      ]
    }
  ]
}
